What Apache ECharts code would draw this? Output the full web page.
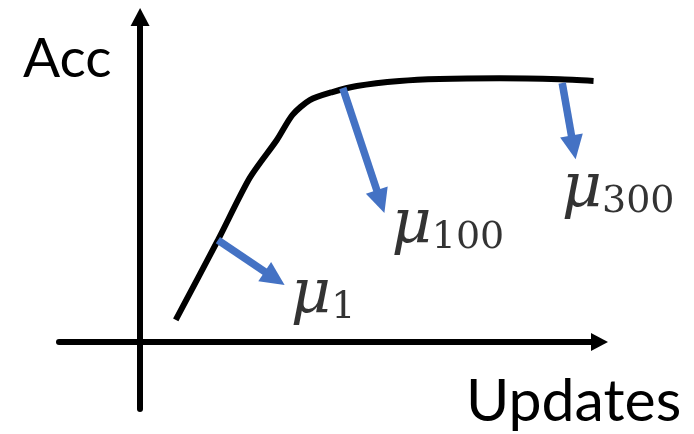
<!DOCTYPE html>
<html>
<head>
<meta charset="utf-8">
<script src="https://cdn.jsdelivr.net/npm/echarts@6/dist/echarts.min.js"></script>
<style>
html,body{margin:0;padding:0;background:#fff;}
#c{width:694px;height:434px;}
</style>
</head>
<body>
<div id="c"></div>
<script>
// Schematic accuracy curve (abstract units)
const updates = [6.6, 14.4, 20.3, 25.3, 28.2, 31.4, 35.6, 40.1, 48.0, 55.4, 66.5, 77.6, 83.9];
const acc     = [6.6, 30.4, 49.0, 60.3, 67.8, 72.2, 74.6, 76.4, 77.9, 78.5, 78.7, 78.4, 77.9];

// Arrows: from point on curve to arrow-head centre
const arrowNames = ['1', '100', '300'];
const arrowFrom = [[14.4, 30.4], [37.5, 75.8], [78.1, 77.3]];
const arrowTo   = [[24.9, 19.0], [44.5, 41.9], [80.2, 58.1]];

// Label anchors (left / baseline of each μ label)
const labelPos = [[27.9, 4.4], [46.5, 25.3], [78.0, 36.0]];

const xLabel = 'Updates';
const yLabel = 'Acc';

const chart = echarts.init(document.getElementById('c'), null, {renderer: 'canvas'});

const curveData = updates.map((x, i) => [x, acc[i]]);
const arrowData = arrowFrom.map((f, i) => [{coord: f}, {coord: arrowTo[i]}]);
const labelData = labelPos.map((p, i) => ({value: p, name: arrowNames[i]}));

const option = {
  backgroundColor: '#ffffff',
  animation: false,
  grid: {left: 59, right: 94.5, top: 17, bottom: 25, containLabel: false},
  xAxis: {
    type: 'value', min: -15, max: 85,
    axisLine: {show: true, onZero: true, symbol: ['none', 'triangle'], symbolSize: [18, 17],
      lineStyle: {color: '#000', width: 6}},
    axisTick: {show: false}, axisLabel: {show: false}, splitLine: {show: false}
  },
  yAxis: {
    type: 'value', min: -20, max: 97,
    axisLine: {show: true, onZero: true, symbol: ['none', 'triangle'], symbolSize: [19, 18],
      lineStyle: {color: '#000', width: 6}},
    axisTick: {show: false}, axisLabel: {show: false}, splitLine: {show: false}
  },
  graphic: [
    {type: 'text', left: 23, top: 32, style: {text: yLabel, font: '55px Lato', fill: '#000'}},
    {type: 'text', left: 466, top: 372, style: {text: xLabel, font: '59px Lato', fill: '#000'}}
  ],
  series: [
    {
      type: 'line', data: curveData, smooth: 0.25,
      showSymbol: false, symbol: 'none', silent: true,
      lineStyle: {color: '#000', width: 6},
      markLine: {
        silent: true, animation: false,
        symbol: ['none', 'triangle'], symbolSize: [23, 24],
        label: {show: false},
        lineStyle: {color: '#4472C4', width: 7.5, type: 'solid'},
        emphasis: {disabled: true},
        data: arrowData
      },
      z: 3
    },
    {
      type: 'scatter', data: labelData, symbolSize: 0, silent: true,
      label: {
        show: true, position: [0, 0], align: 'left', verticalAlign: 'bottom', color: '#000',
        formatter: p => '{mu|μ}{sub|' + p.name + '}',
        rich: {
          mu: {fontFamily: 'DejaVu Serif', fontStyle: 'italic', fontSize: 62, color: '#000', verticalAlign: 'bottom', lineHeight: 64},
          sub: {fontFamily: 'DejaVu Serif', fontSize: 38, color: '#000', verticalAlign: 'bottom', lineHeight: 42}
        }
      },
      z: 5
    }
  ]
};
chart.setOption(option);
</script>
</body>
</html>
